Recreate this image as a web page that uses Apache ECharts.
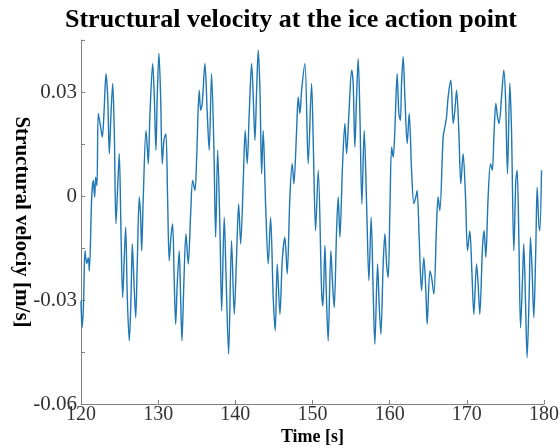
<!DOCTYPE html>
<html>
<head>
<meta charset="utf-8">
<script src="https://cdn.jsdelivr.net/npm/echarts@6/dist/echarts.min.js"></script>
<style>
  html, body { margin: 0; padding: 0; background: #fff; }
  #chart { width: 560px; height: 448px; }
</style>
</head>
<body>
<div id="chart"></div>
<script>
// Sampled time history of the structural velocity (time in s, velocity in m/s)
const time = [
  120.00, 120.13, 120.32, 120.52, 120.74, 120.95, 121.08, 121.39, 121.59, 121.77,
  121.90, 122.07, 122.24, 122.55, 122.76, 122.98, 123.24, 123.46, 123.67, 123.89,
  124.11, 124.31, 124.53, 124.75, 124.96, 125.18, 125.40, 125.61, 125.79, 126.00,
  126.26, 126.48, 126.65, 126.87, 127.09, 127.29, 127.55, 127.73, 127.86, 128.07,
  128.42, 128.59, 128.72, 128.94, 129.29, 129.50, 129.71, 129.88, 130.10, 130.32,
  130.53, 130.75, 131.00, 131.22, 131.43, 131.65, 131.87, 132.09, 132.27, 132.47,
  132.73, 132.91, 133.08, 133.34, 133.60, 133.90, 134.21, 134.47, 134.77, 134.99,
  135.32, 135.51, 135.71, 136.06, 136.36, 136.61, 136.92, 137.22, 137.45, 137.71,
  138.01, 138.23, 138.56, 138.78, 139.13, 139.51, 139.86, 140.14, 140.43, 140.69,
  141.03, 141.28, 141.54, 141.80, 142.11, 142.32, 142.54, 142.76, 142.97, 143.19,
  143.41, 143.61, 143.92, 144.26, 144.57, 144.91, 145.17, 145.43, 145.78, 146.08,
  146.42, 146.72, 147.07, 147.37, 147.59, 147.94, 148.15, 148.37, 148.59, 149.02,
  149.44, 149.88, 150.12, 150.40, 150.74, 151.18, 151.35, 151.61, 151.80, 152.03,
  152.38, 152.60, 152.81, 153.12, 153.33, 153.55, 153.90, 154.20, 154.42, 154.72,
  155.07, 155.27, 155.49, 155.71, 155.92, 156.14, 156.40, 156.70, 157.01, 157.31,
  157.60, 157.86, 158.08, 158.43, 158.64, 158.86, 159.16, 159.38, 159.60, 159.81,
  160.03, 160.25, 160.46, 160.67, 160.97, 161.19, 161.39, 161.54, 161.75, 161.97,
  162.27, 162.53, 162.84, 163.13, 163.39, 163.56, 163.82, 164.13, 164.43, 164.69,
  164.86, 165.21, 165.43, 165.73, 166.08, 166.28, 166.50, 166.93, 167.15, 167.37,
  167.58, 167.93, 168.23, 168.45, 168.67, 168.96, 169.22, 169.52, 169.83, 170.09,
  170.39, 170.65, 170.91, 171.26, 171.46, 171.68, 172.03, 172.24, 172.46, 172.76,
  173.07, 173.30, 173.54, 173.76, 173.98, 174.18, 174.50, 174.79, 175.01, 175.27,
  175.57, 175.79, 176.09, 176.35, 176.52, 176.74, 176.96, 177.21, 177.38, 177.60,
  177.81, 178.07, 178.25, 178.46, 178.68, 178.94, 179.11, 179.33, 179.46, 179.68
];
const velocity = [
  -0.0302, -0.0380, -0.0317, -0.0158, -0.0195, -0.0178, -0.0216, -0.0003, 0.0045, -0.0003,
  0.0054, 0.0030, 0.0238, 0.0199, 0.0170, 0.0239, 0.0353, 0.0286, 0.0122, 0.0239,
  0.0325, 0.0189, -0.0080, 0.0025, 0.0122, -0.0100, -0.0293, -0.0177, -0.0090, -0.0293,
  -0.0418, -0.0293, -0.0138, -0.0253, -0.0351, -0.0196, -0.0003, -0.0061, -0.0158, -0.0003,
  0.0189, 0.0141, 0.0093, 0.0238, 0.0382, 0.0286, 0.0132, 0.0286, 0.0411, 0.0286,
  0.0093, 0.0161, 0.0180, -0.0003, -0.0187, -0.0119, -0.0080, -0.0254, -0.0370, -0.0254,
  -0.0158, -0.0293, -0.0418, -0.0244, -0.0109, -0.0196, -0.0051, 0.0045, 0.0016, 0.0112,
  0.0305, 0.0247, 0.0267, 0.0382, 0.0239, 0.0132, 0.0353, 0.0141, -0.0119, 0.0132,
  -0.0100, -0.0331, -0.0061, -0.0216, -0.0456, -0.0129, -0.0341, -0.0187, -0.0023, -0.0138,
  0.0045, 0.0189, 0.0093, 0.0238, 0.0382, 0.0286, 0.0161, 0.0305, 0.0421, 0.0305,
  0.0064, 0.0189, -0.0023, -0.0196, -0.0061, -0.0293, -0.0389, -0.0196, -0.0341, -0.0187,
  -0.0119, -0.0225, -0.0003, 0.0093, 0.0035, 0.0189, 0.0286, 0.0238, 0.0305, 0.0382,
  0.0093, 0.0325, 0.0132, -0.0100, 0.0074, -0.0273, -0.0317, -0.0143, -0.0288, -0.0418,
  -0.0158, -0.0253, -0.0322, -0.0100, -0.0003, -0.0119, 0.0093, 0.0209, 0.0122, 0.0238,
  0.0363, 0.0325, 0.0141, 0.0286, 0.0397, 0.0238, -0.0023, 0.0189, -0.0023, -0.0244,
  -0.0061, -0.0273, -0.0428, -0.0196, -0.0312, -0.0399, -0.0196, -0.0109, -0.0196, -0.0235,
  -0.0042, 0.0141, 0.0112, 0.0189, 0.0353, 0.0238, 0.0218, 0.0325, 0.0402, 0.0286,
  0.0151, 0.0238, 0.0074, -0.0022, -0.0003, 0.0016, -0.0119, -0.0273, -0.0177, -0.0273,
  -0.0370, -0.0216, -0.0235, -0.0283, -0.0080, -0.0003, -0.0042, 0.0170, 0.0199, 0.0228,
  0.0286, 0.0334, 0.0209, 0.0247, 0.0305, 0.0189, 0.0035, 0.0122, -0.0003, -0.0158,
  -0.0100, -0.0216, -0.0341, -0.0196, -0.0253, -0.0341, -0.0148, -0.0100, -0.0177, -0.0003,
  0.0093, 0.0074, 0.0189, 0.0267, 0.0228, 0.0209, 0.0286, 0.0363, 0.0286, 0.0064,
  0.0325, 0.0189, -0.0158, 0.0045, 0.0074, -0.0119, -0.0380, -0.0244, -0.0138, -0.0302,
  -0.0466, -0.0293, -0.0119, -0.0216, -0.0351, -0.0148, 0.0025, -0.0080, -0.0100, 0.0074
];

// Axis ranges and labelled ticks
const xTicks = [120, 130, 140, 150, 160, 170, 180];
const yTickLabels = [-0.06, -0.03, 0, 0.03];

const serif = '"Liberation Serif", "Times New Roman", serif';
const axisGrey = '#808080';

const points = time.map((t, i) => [t, velocity[i]]);

const chart = echarts.init(document.getElementById('chart'), null, { renderer: 'canvas' });
chart.setOption({
  animation: false,
  backgroundColor: '#ffffff',
  title: {
    text: 'Structural velocity at the ice action point',
    left: 286,
    textAlign: 'center',
    top: 2,
    textStyle: { fontFamily: serif, fontWeight: 'bold', fontSize: 26, color: '#000' }
  },
  grid: { left: 81, right: 16, top: 40, bottom: 44, containLabel: false, outerBoundsMode: 'none' },
  xAxis: {
    type: 'value',
    min: xTicks[0],
    max: xTicks[xTicks.length - 1],
    interval: 10,
    name: 'Time [s]',
    nameLocation: 'middle',
    nameGap: 24,
    nameMoveOverlap: false,
    nameTextStyle: { fontFamily: serif, fontWeight: 'bold', fontSize: 18, color: '#000' },
    axisLine: { onZero: false, lineStyle: { color: axisGrey, width: 1 } },
    axisTick: { inside: true, length: 4, lineStyle: { color: axisGrey } },
    axisLabel: { fontFamily: serif, fontSize: 20, color: '#333', margin: 1 },
    splitLine: { show: false }
  },
  yAxis: {
    type: 'value',
    min: -0.06,
    max: 0.045,
    interval: 0.015,
    name: 'Structural velociy [m/s]',
    nameLocation: 'middle',
    nameGap: 49,
    nameMoveOverlap: false,
    nameRotate: -90,
    nameTextStyle: { fontFamily: serif, fontWeight: 'bold', fontSize: 21, color: '#000' },
    axisLine: { onZero: false, lineStyle: { color: axisGrey, width: 1 } },
    axisTick: { inside: true, length: 4, lineStyle: { color: axisGrey } },
    axisLabel: {
      fontFamily: serif, fontSize: 21, color: '#333', margin: 4,
      formatter: function (v) {
        const hit = yTickLabels.find(l => Math.abs(l - v) < 1e-9);
        if (hit === undefined) return '';
        return hit === 0 ? '0' : String(hit);
      }
    },
    splitLine: { show: false }
  },
  series: [{
    type: 'line',
    data: points,
    showSymbol: false,
    symbol: 'none',
    smooth: 0.3,
    lineStyle: { color: '#1f77b4', width: 1.4 },
    clip: true
  }]
});
</script>
</body>
</html>
